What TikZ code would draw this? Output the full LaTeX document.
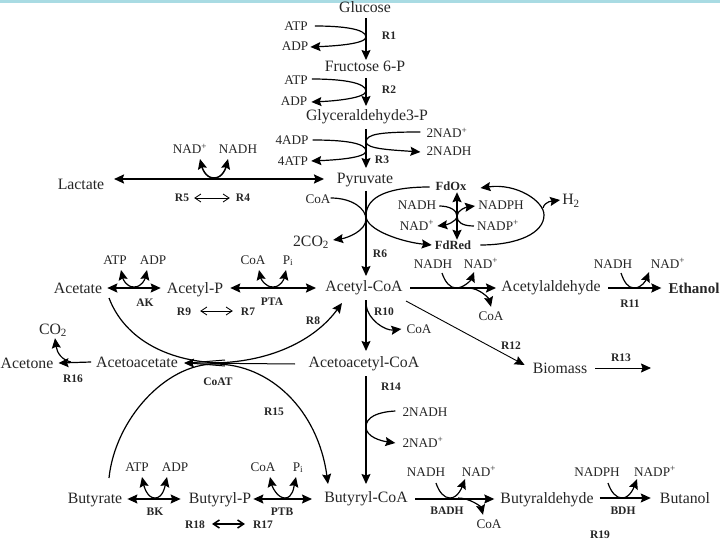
\documentclass[tikz,border=0pt]{standalone}
\usepackage{fontspec}
\setmainfont{Liberation Serif}
\usetikzlibrary{arrows.meta,calc}
\definecolor{band}{HTML}{A9DBE3}
\definecolor{ink}{HTML}{262626}
\tikzset{
  big/.style={font=\fontsize{15.8}{16}\selectfont,text=ink,inner sep=0pt,text height=10pt,text depth=0pt},
  small/.style={font=\fontsize{13.2}{14}\selectfont,text=ink,inner sep=0pt,text height=8pt,text depth=0pt},
  boldsmall/.style={small,font=\fontsize{12.5}{13}\selectfont\bfseries},
  rlab/.style={font=\fontsize{11.5}{12}\selectfont\bfseries,text=ink,inner sep=0pt,text height=8pt,text depth=0pt},
  flow/.style={draw=black,line width=1.2pt,-{Stealth[length=10pt,width=9pt,inset=1.5pt]}},
  flowb/.style={draw=black,line width=1.2pt,{Stealth[length=10pt,width=9pt,inset=1.5pt]}-{Stealth[length=10pt,width=9pt,inset=1.5pt]}},
  thickb/.style={flowb,line width=1.9pt},
  plain/.style={draw=black,line width=1.2pt},
  open/.style={draw=black,line width=.8pt,{Straight Barb[length=6pt,width=8pt]}-{Straight Barb[length=6pt,width=8pt]}},
}
\newcommand{\ucof}[3]{%
  \draw[flow] (#1) .. controls +(-8,0) and +(2,9) .. (#2);
  \draw[flow] (#1) .. controls +(8,0) and +(-2,9) .. (#3);}
\begin{document}
\begin{tikzpicture}[x=1pt,y=-1pt]
\useasboundingbox (0,0) rectangle (720,540);
\fill[white] (0,0) rectangle (720,540);
\fill[band] (0,0) rectangle (720,3);
% main metabolites
\node[big] (glc) at (365,8) {Glucose};
\node[big] (fru) at (365,67) {Fructose 6-P};
\node[big] (gap) at (367,116) {Glyceraldehyde3-P};
\node[big] (pyr) at (365,179) {Pyruvate};
\node[big] (lac) at (81,185) {Lactate};
\node[big] (accoa) at (364,286) {Acetyl-CoA};
\node[big] (aacoa) at (364,362) {Acetoacetyl-CoA};
\node[big] (bucoa) at (366,497) {Butyryl-CoA};
\node[big] (ac) at (78,288) {Acetate};
\node[big] (acp) at (195,288) {Acetyl-P};
\node[big] (aldA) at (551,286) {Acetylaldehyde};
\node[big,font=\fontsize{15}{15}\selectfont\bfseries] (etoh) at (694,288) {Ethanol};
\node[big] (bio) at (560,368) {Biomass};
\node[big] (aac) at (137,362) {Acetoacetate};
\node[big] (acet) at (27,363) {Acetone};
\node[big] (co2b) at (53,329) {CO\textsubscript{2}};
\node[big] (but) at (95,498) {Butyrate};
\node[big] (bup) at (220,498) {Butyryl-P};
\node[big] (bual) at (547,498) {Butyraldehyde};
\node[big] (buoh) at (685,498) {Butanol};
\node[big] (co2) at (311,241) {2CO\textsubscript{2}};
\node[big] (h2) at (571,200) {H\textsubscript{2}};
% cofactors
\node[small] (atp1) at (296,27) {ATP};
\node[small] (adp1) at (295,47) {ADP};
\node[small] (atp2) at (296,81) {ATP};
\node[small] (adp2) at (294,102) {ADP};
\node[small] (adp4) at (292,141) {4ADP};
\node[small] (atp4) at (293,162) {4ATP};
\node[small] (nad3) at (447,134) {2NAD\textsuperscript{+}};
\node[small] (nadh3) at (449,152) {2NADH};
\node[small] (nad5) at (190,150) {NAD\textsuperscript{+}};
\node[small] (nadh5) at (238,150) {NADH};
\node[small] (coa6) at (318,200) {CoA};
\node[boldsmall] (fdox) at (451,187) {FdOx};
\node[boldsmall] (fdred) at (453,245) {FdRed};
\node[small] (nadhf) at (417,206) {NADH};
\node[small] (nadphf) at (501,206) {NADPH};
\node[small] (nadf) at (417,226) {NAD\textsuperscript{+}};
\node[small] (nadpf) at (498,226) {NADP\textsuperscript{+}};
\node[small] (atpk) at (115,260) {ATP};
\node[small] (adpk) at (153,260) {ADP};
\node[small] (coap) at (253,260) {CoA};
\node[small] (pip) at (288,260) {P\textsubscript{i}};
\node[small] (nadha) at (433,264) {NADH};
\node[small] (nada) at (481,264) {NAD\textsuperscript{+}};
\node[small] (coaa) at (491,316) {CoA};
\node[small] (nadhe) at (613,264) {NADH};
\node[small] (nade) at (668,264) {NAD\textsuperscript{+}};
\node[small] (coa10) at (419,329) {CoA};
\node[small] (nadh14) at (425,412) {2NADH};
\node[small] (nad14) at (423,443) {2NAD\textsuperscript{+}};
\node[small] (atpb) at (137,467) {ATP};
\node[small] (adpb) at (175,467) {ADP};
\node[small] (coab) at (263,467) {CoA};
\node[small] (pib) at (298,467) {P\textsubscript{i}};
\node[small] (nadhb) at (426,472) {NADH};
\node[small] (nadb) at (479,472) {NAD\textsuperscript{+}};
\node[small] (coad) at (489,524) {CoA};
\node[small] (nadphb) at (597,472) {NADPH};
\node[small] (nadpb) at (655,472) {NADP\textsuperscript{+}};
% reaction labels
\node[rlab] (r1) at (389,36) {R1};
\node[rlab] (r2) at (389,90) {R2};
\node[rlab] (r3) at (382,160) {R3};
\node[rlab] (r4) at (243,198) {R4};
\node[rlab] (r5) at (182,198) {R5};
\node[rlab] (r6) at (380,253) {R6};
\node[rlab] (r7) at (248,311) {R7};
\node[rlab] (r8) at (313,320) {R8};
\node[rlab] (r9) at (184,311) {R9};
\node[rlab] (r10) at (384,311) {R10};
\node[rlab] (r11) at (630,303) {R11};
\node[rlab] (r12) at (511,345) {R12};
\node[rlab] (r13) at (621,357) {R13};
\node[rlab] (r14) at (391,386) {R14};
\node[rlab] (r15) at (274,411) {R15};
\node[rlab] (r16) at (73,378) {R16};
\node[rlab] (r17) at (263,524) {R17};
\node[rlab] (r18) at (195,524) {R18};
\node[rlab] (r19) at (600,534) {R19};
\node[rlab] (ak) at (145,302) {AK};
\node[rlab] (pta) at (272,301) {PTA};
\node[rlab] (coat) at (218,381) {CoAT};
\node[rlab] (bk) at (155,511) {BK};
\node[rlab] (ptb) at (282,511) {PTB};
\node[rlab] (badh) at (447,510) {BADH};
\node[rlab] (bdh) at (623,510) {BDH};
% spine
\coordinate (sp) at (366,0);
\draw[flow] (sp |- 0,18) -- (sp |- 0,60);
\draw[flow] (sp |- 0,78) -- (sp |- 0,106);
\draw[flow] (sp |- 0,129) -- (sp |- 0,168);
\draw[flow] (sp |- 0,191) -- (sp |- 0,276);
\draw[flow] (sp |- 0,300) -- (sp |- 0,351);
\draw[flow] (sp |- 0,376) -- (sp |- 0,484);
% side loops on spine
\coordinate (k1) at (366,37);\coordinate (k2) at (366,91);\coordinate (k3) at (366,151);
\draw[plain] ($(atp1.east)+(7,-1)$) .. controls +(28,0) and +(0,-8) .. (k1);
\draw[flow] (k1) .. controls +(0,7) and +(24,-1) .. ($(adp1.east)+(2,0)$);
\draw[plain] ($(atp2.east)+(4,-2)$) .. controls +(32,0) and +(0,-8) .. (k2);
\draw[flow] (k2) .. controls +(0,7) and +(24,-1) .. ($(adp2.east)+(4,0)$);
\draw[plain] ($(adp4.east)+(4,-1)$) .. controls +(32,0) and +(0,-8) .. (k3);
\draw[flow] (k3) .. controls +(0,7) and +(24,-1) .. ($(atp4.east)+(3,-1)$);
\coordinate (k4) at (366,142);
\draw[plain] ($(nad3.west)+(-6,-2)$) .. controls +(-40,0) and +(0,-8) .. (k4);
\draw[flow] (k4) .. controls +(0,7) and +(-28,-2) .. ($(nadh3.west)+(-6,0)$);
\coordinate (k6) at (366,219);
\draw[plain] ($(coa6.east)+(0,-2)$) .. controls +(22,0) and +(0,-10) .. (k6);
\draw[flow] (k6) .. controls +(0,12) and +(14,-2) .. ($(co2.east)+(4,-1)$);
% lactate
\coordinate (lacR) at (114,179);\coordinate (pyrL) at (324,179);
\draw[thickb] (lacR) -- (pyrL);
\coordinate (u5) at (214,178);\coordinate (u5l) at (200,159);\coordinate (u5r) at (228,159);
\draw[flow,line width=1.5pt] (u5) .. controls +(-9,0) and +(2,8) .. (u5l);
\draw[flow,line width=1.5pt] (u5) .. controls +(9,0) and +(-2,8) .. (u5r);
\draw[open] ($(r5.east)+(5,0)$) -- ($(r4.west)+(-6,0)$);
% Fd loop
\coordinate (fl) at (366,216);
\draw[plain] ($(fdox.west)+(-6,0)$) .. controls +(-40,0) and +(0,-20) .. (fl);
\draw[flow] (fl) .. controls +(0,14) and +(-30,-3) .. ($(fdred.west)+(-3,0)$);
\coordinate (fr) at (544,215);
\draw[plain] ($(fdred.east)+(9,0)$) .. controls +(38,0) and +(0,18) .. (fr);
\draw[flow] (fr) .. controls +(0,-14) and +(36,-5) .. ($(fdox.east)+(14,1)$);
\coordinate (hs) at (543,208);
\draw[flow] (hs) .. controls +(2,-7) and +(-7,1) .. ($(h2.west)+(-2,0)$);
\coordinate (fm) at (457,216);
\draw[flowb,line width=1.6pt] ($(fdox.south)+(6,1)$) -- ($(fdred.north)+(4,-1)$);
\draw[plain] ($(nadhf.east)+(3,0)$) .. controls +(10,0) and +(0,-6) .. (fm);
\draw[flow] (fm) .. controls +(0,6) and +(8,-1) .. ($(nadf.east)+(3,0)$);
\draw[plain] ($(nadpf.west)+(-3,0)$) .. controls +(-12,0) and +(0,6) .. (fm);
\draw[flow] (fm) .. controls +(0,-6) and +(-8,1) .. ($(nadphf.west)+(-3,0)$);
% acetate row
\draw[flowb,line width=1.7pt] ($(ac.east)+(5,0)$) -- ($(acp.west)+(-6,0)$);
\coordinate (uk) at (134,287);\coordinate (ukl) at (121,270);\coordinate (ukr) at (147,270);
\ucof{uk}{ukl}{ukr}
\draw[flowb,line width=1.7pt] ($(acp.east)+(7,0)$) -- (316,288);
\coordinate (up) at (273,287);\coordinate (upl) at (259,270);\coordinate (upr) at (286,270);
\ucof{up}{upl}{upr}
\draw[open] ($(r9.east)+(9,0)$) -- ($(r7.west)+(-8,0)$);
% CoAT cross
\coordinate (acs) at (109,298);\coordinate (hub) at (225,363);
\draw[plain] (acs) .. controls (125,340) and (170,363) .. (hub);
\draw[flow] (210,363) .. controls (270,363) and (315,340) .. (342,303);
\draw[plain] (109,478) .. controls (115,420) and (165,364) .. (215,364);
\draw[flow] (215,364) .. controls (270,364) and (318,410) .. (328,484);
\draw[flow,line width=1pt] (295,364) -- (184,363);
\draw[plain,line width=1pt] (225,360) -- (188,363) -- (225,366);
% acetone
\draw[flow] ($(aac.west)+(-5,0)$) -- ($(acet.east)+(5,0)$);
\coordinate (ack) at (71,362);
\draw[flow] (ack) .. controls (62,360) and (57,353) .. ($(co2b.south)+(2,4)$);
% right top
\draw[flow,line width=1.7pt] (410,288) -- (496,288);
\coordinate (ua) at (456,288);\coordinate (ual) at (442,273);\coordinate (uar) at (474,272);
\draw[plain] (ual) .. controls +(3,9) and +(-6,0) .. (ua);
\draw[flow] (ua) .. controls +(8,0) and +(-3,8) .. (uar);
\draw[flow] (468,288) .. controls +(12,0) and +(-2,-8) .. ($(coaa.north)+(0,-5)$);
\draw[flow,line width=2pt] (608,288) -- ($(etoh.west)+(-7,0)$);
\coordinate (ue) at (634,288);\coordinate (uel) at (621,273);\coordinate (uer) at (649,272);
\draw[plain] (uel) .. controls +(3,9) and +(-6,0) .. (ue);
\draw[flow] (ue) .. controls +(8,0) and +(-3,8) .. (uer);
\coordinate (k10) at (366,305);
\draw[flow] (k10) .. controls +(2,15) and +(-16,2) .. ($(coa10.west)+(-5,0)$);
\draw[flow,line width=.9pt] (406,301) -- ($(bio.west)+(-8,-3)$);
\draw[flow,line width=.9pt] ($(bio.east)+(8,0)$) -- (651,368);
% R14
\coordinate (k14) at (366,427);
\draw[plain] ($(nadh14.west)+(-7,-1)$) .. controls +(-18,1) and +(0,-10) .. (k14);
\draw[flow] (k14) .. controls +(0,10) and +(-14,-2) .. ($(nad14.west)+(-7,0)$);
% butyrate row
\draw[flowb] ($(but.east)+(5,1)$) -- ($(bup.west)+(-8,1)$);
\coordinate (ub) at (155,498);\coordinate (ubl) at (142,477);\coordinate (ubr) at (167,477);
\ucof{ub}{ubl}{ubr}
\draw[flowb] ($(bup.east)+(2,1)$) -- (312,499);
\coordinate (uc) at (285,498);\coordinate (ucl) at (270,477);\coordinate (ucr) at (296,477);
\ucof{uc}{ucl}{ucr}
\draw[open,line width=1.5pt] ($(r18.east)+(7,0)$) -- ($(r17.west)+(-8,0)$);
% butanol row
\draw[flow] (415,499) -- ($(bual.west)+(-6,1)$);
\coordinate (ud) at (450,498);\coordinate (udl) at (436,483);\coordinate (udr) at (465,479);
\draw[plain] (udl) .. controls +(3,9) and +(-6,0) .. (ud);
\draw[flow] (ud) .. controls +(8,0) and +(-3,8) .. (udr);
\draw[flow] (458,498) .. controls +(12,0) and +(-2,-8) .. ($(coad.north)+(-6,-5)$);
\draw[flow] ($(bual.east)+(6,0)$) -- ($(buoh.west)+(-9,0)$);
\coordinate (uf) at (622,498);\coordinate (ufl) at (608,483);\coordinate (ufr) at (637,479);
\draw[plain] (ufl) .. controls +(3,9) and +(-6,0) .. (uf);
\draw[flow] (uf) .. controls +(8,0) and +(-3,8) .. (ufr);
\end{tikzpicture}
\end{document}
